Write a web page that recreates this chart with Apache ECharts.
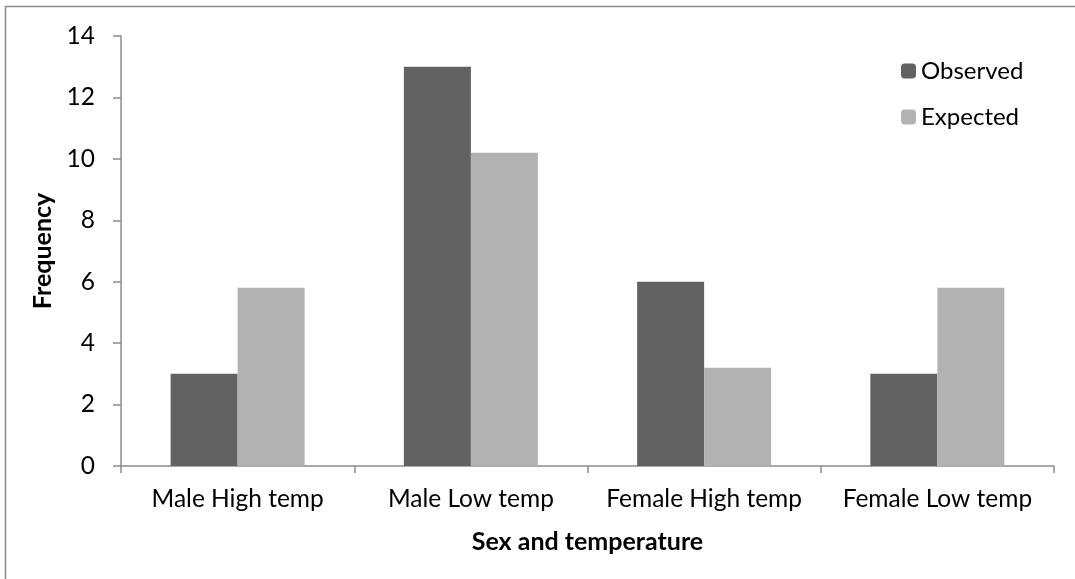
<!DOCTYPE html>
<html><head><meta charset="utf-8">
<script src="https://cdn.jsdelivr.net/npm/echarts@6/dist/echarts.min.js"></script>
<style>html,body{margin:0;padding:0;background:#fff}#c{width:1075px;height:579px}</style>
</head><body><div id="c"></div>
<script>
const categories = ['Male High temp', 'Male Low temp', 'Female High temp', 'Female Low temp'];
const observed = [3, 13, 6, 3];
const expected = [5.8, 10.2, 3.2, 5.8];
const yTicks = [0, 2, 4, 6, 8, 10, 12, 14];

const chart = echarts.init(document.getElementById('c'), null, {renderer: 'canvas'});
const font = 'Lato, "Open Sans", sans-serif';
chart.setOption({
  animation: false,
  textStyle: {fontFamily: font},
  graphic: [{type: 'rect', shape: {x: 5.5, y: 6.5, width: 1200, height: 700}, style: {fill: 'none', stroke: '#8c8c8c', lineWidth: 1.5}}],
  grid: {left: 121, right: 21, top: 36, bottom: 113},
  legend: {
    orient: 'vertical', left: 896, top: 54, itemWidth: 15, itemHeight: 15, itemGap: 22,
    textStyle: {fontSize: 24, color: '#000', fontFamily: font},
    data: ['Observed', 'Expected']
  },
  xAxis: {
    type: 'category', data: categories,
    name: 'Sex and temperature', nameLocation: 'middle', nameGap: 63,
    nameTextStyle: {fontSize: 25, fontWeight: 'bold', color: '#000', fontFamily: font},
    axisLine: {lineStyle: {color: '#8c8c8c', width: 1.5}},
    axisTick: {show: true, interval: 0, length: 7, lineStyle: {color: '#8c8c8c', width: 1.5}},
    axisLabel: {interval: 0, hideOverlap: false, fontSize: 24.5, color: '#000', margin: 21, fontFamily: font}
  },
  yAxis: {
    type: 'value', min: 0, max: 14, interval: 2,
    name: 'Frequency', nameLocation: 'middle', nameGap: 64, nameRotate: 90,
    nameTextStyle: {fontSize: 25, fontWeight: 'bold', color: '#000', fontFamily: font},
    axisLine: {show: true, lineStyle: {color: '#8c8c8c', width: 1.5}},
    axisTick: {show: true, length: 8, lineStyle: {color: '#8c8c8c', width: 1.5}},
    splitLine: {show: false},
    axisLabel: {fontSize: 24.5, color: '#000', margin: 26, fontFamily: font,
      formatter: v => yTicks.includes(v) ? String(v) : ''}
  },
  series: [
    {name: 'Observed', type: 'bar', data: observed, barWidth: 67, barGap: '0%', itemStyle: {color: '#626262'}},
    {name: 'Expected', type: 'bar', data: expected, barWidth: 67, itemStyle: {color: '#b2b2b2'}}
  ]
});
</script></body></html>
